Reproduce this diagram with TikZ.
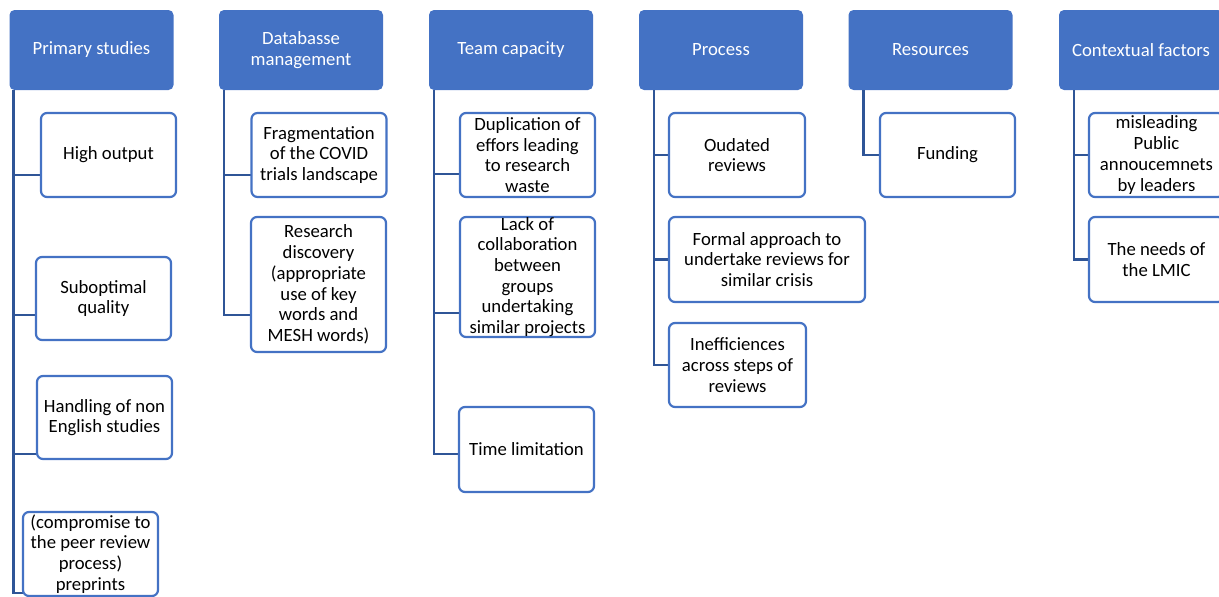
\documentclass[tikz,border=0pt]{standalone}
\usepackage{fontspec}
\setmainfont{Carlito}
\usetikzlibrary{calc}
\definecolor{hdrblue}{HTML}{4472C4}
\definecolor{linkblue}{HTML}{2F5597}

\begin{document}
\begin{tikzpicture}[x=1pt,y=-1pt,
    head/.style={rectangle, rounded corners=5pt, fill=hdrblue, text=white,
      minimum width=164pt, minimum height=80pt, align=center,
      font=\fontsize{18.7}{20.7}\selectfont},
    item/.style={rectangle, rounded corners=6pt, draw=hdrblue, line width=2.2pt,
      fill=white, minimum width=135pt, minimum height=84pt, inner ysep=0pt,
      inner xsep=1pt, align=center, font=\fontsize{18.7}{20.7}\selectfont},
    link/.style={draw=linkblue, line width=2.5pt}]
    \useasboundingbox (0,0) rectangle (1219,597);

    \node[head] (h1) at (91.5,50) {Primary studies};
    \node[head] (h2) at (301,50) {Databasse\\management};
    \node[head] (h3) at (511,50) {Team capacity};
    \node[head] (h4) at (721,50) {Process};
    \node[head] (h5) at (930.5,50) {Resources};
    \node[head] (h6) at (1141,50) {Contextual factors};

    \draw[link] ([xshift=4pt]h1.south west) |- ([yshift=-20pt]108.5,155) coordinate (l11);
    \draw[link] ([xshift=4pt]h1.south west) |- ([yshift=-16.5pt]103.5,298.5) coordinate (l12);
    \draw[link] ([xshift=4pt]h1.south west) |- ([yshift=-36.5pt]104.5,417.5) coordinate (l13);
    \draw[link] ([xshift=4pt]h1.south west) |- ([yshift=-39pt]90.5,554) coordinate (l14);
    \draw[link] ([xshift=5pt]h2.south west) |- ([yshift=-20pt]319,155);
    \draw[link] ([xshift=5pt]h2.south west) |- ([yshift=-30.5pt]318.5,284.5);
    \draw[link] ([xshift=5pt]h3.south west) |- ([yshift=-19pt]527.5,155);
    \draw[link] ([xshift=5pt]h3.south west) |- ([yshift=-36pt]527.5,277);
    \draw[link] ([xshift=5pt]h3.south west) |- ([yshift=-4.5pt]526.5,449.5);
    \draw[link] ([xshift=15pt]h4.south west) |- (737,155);
    \draw[link] ([xshift=15pt]h4.south west) |- (767,259.5);
    \draw[link] ([xshift=15pt]h4.south west) |- (737.5,365);
    \draw[link] ([xshift=15pt]h5.south west) |- (947.5,155);
    \draw[link] ([xshift=15pt]h6.south west) |- (1156.5,155);
    \draw[link] ([xshift=15pt]h6.south west) |- (1156.5,259.5);

    \node[item] (c11) at (108.5,155) {High output};
    \node[item, minimum height=83pt] (c12) at (103.5,298.5) {Suboptimal\\quality};
    \node[item, minimum height=83pt] (c13) at (104.5,417.5) {Handling of non\\English studies};
    \node[item] (c14) at (90.5,554) {(compromise to\\the peer review\\process)\\preprints};
    \node[item] (c21) at (319,155) {Fragmentation\\of the COVID\\trials landscape};
    \node[item, minimum height=135pt] (c22) at (318.5,284.5) {Research\\discovery\\(appropriate\\use of key\\words and\\MESH words)};
    \node[item] (c31) at (527.5,155) {Duplication of\\effors leading\\to research\\waste};
    \node[item, minimum height=120pt] (c32) at (527.5,277) {Lack of\\collaboration\\between\\groups\\undertaking\\similar projects};
    \node[item, minimum height=85pt] (c33) at (526.5,449.5) {Time limitation};
    \node[item, minimum width=136pt] (c41) at (737,155) {Oudated\\reviews};
    \node[item, minimum width=196pt, minimum height=85pt] (c42) at (767,259.5) {Formal approach to\\undertake reviews for\\similar crisis};
    \node[item, minimum width=137pt] (c43) at (737.5,365) {Inefficiences\\across steps of\\reviews};
    \node[item] (c51) at (947.5,155) {Funding};
    \node[item] (c61) at (1156.5,155) {misleading\\Public\\annoucemnets\\by leaders};
    \node[item, minimum height=85pt] (c62) at (1156.5,259.5) {The needs of\\the LMIC};
\end{tikzpicture}
\end{document}
